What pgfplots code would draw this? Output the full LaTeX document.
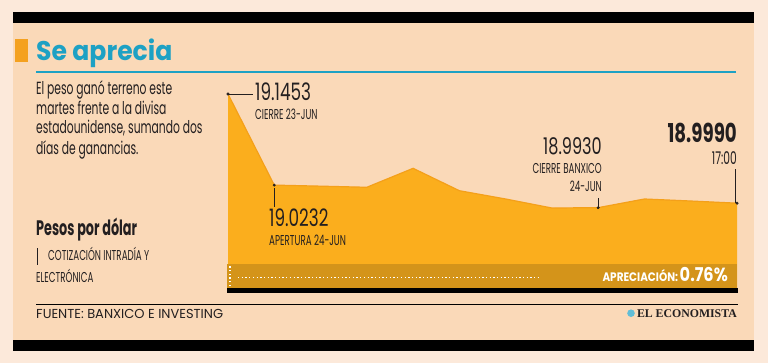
\documentclass[border=0pt]{standalone}
\usepackage{pgfplots}
\pgfplotsset{compat=1.18}
\usepackage{fontspec}
\setmainfont{Poppins}
\newfontfamily\titlefont[FakeStretch=0.93]{Poppins}
\newfontfamily\cond[FakeStretch=0.61]{Poppins}
\newfontfamily\condn[FakeStretch=0.7]{Poppins}
\newfontfamily\condw[FakeStretch=0.85]{Poppins}
\newfontfamily\logofont{Liberation Serif}
\definecolor{outerbg}{RGB}{252,233,218}
\definecolor{panel}{RGB}{250,217,184}
\definecolor{areac}{RGB}{251,174,29}
\definecolor{areaedge}{RGB}{244,160,26}
\definecolor{band}{RGB}{212,148,26}
\definecolor{sq}{RGB}{244,161,31}
\definecolor{titleblue}{RGB}{29,161,196}
\definecolor{txt}{RGB}{35,31,32}
\pgfplotstableread{
x y
0 19.1453
1 19.0232
2 19.0218
3 19.0203
4 19.0457
5 19.0157
6 19.0046
7 18.9925
8 18.9930
9 19.0046
10 19.0019
11 18.9990
}\peso
\pgfplotstableread{
x y
0 19.1453
1 19.0232
8 18.9930
11 18.9990
}\labeled
\begin{document}
\begin{tikzpicture}[x=1bp,y=1bp]
\fill[outerbg] (0,0) rectangle (768,363);
\fill[panel] (13,13) rectangle (754,351);
\fill[black] (13,340.3) rectangle (754,351);
\fill[black] (13,12.3) rectangle (754,23);
\fill[sq] (15,301) rectangle (28,324);
\node[anchor=base west, inner sep=0, text=titleblue, font=\titlefont\fontsize{27bp}{30bp}\selectfont\bfseries] at (36,303) {Se aprecia};
\draw[titleblue, line width=2bp] (36,291) -- (736,291);
% paragraph
\begin{scope}[every node/.style={anchor=base west, inner sep=0, text=txt, font=\cond\fontsize{17.6bp}{20bp}\selectfont}]
\node at (36,269) {El peso ganó terreno este};
\node at (36,249) {martes frente a la divisa};
\node at (36,230) {estadounidense, sumando dos};
\node at (36,209) {días de ganancias.};
\end{scope}
\node[anchor=base west, inner sep=0, text=txt, font=\cond\fontsize{21bp}{22bp}\selectfont\bfseries] at (36,128) {Pesos por dólar};
\draw[txt, line width=0.8bp] (37,115) -- (37,98);
\node[anchor=base west, inner sep=0, text=txt, font=\cond\fontsize{14.3bp}{16bp}\selectfont] at (48,103) {COTIZACIÓN INTRADÍA Y};
\node[anchor=base west, inner sep=0, text=txt, font=\cond\fontsize{14.3bp}{16bp}\selectfont] at (36,81) {ELECTRÓNICA};
% source
\draw[black, line width=0.8bp] (36,59) -- (738,59);
\node[anchor=base west, inner sep=0, text=txt, font=\fontsize{13bp}{16bp}\selectfont] at (36,45) {FUENTE: BANXICO E INVESTING};
\node[anchor=base east, inner sep=0, text=txt, font=\logofont\fontsize{11.8bp}{14bp}\selectfont\bfseries] at (737,46) {EL ECONOMISTA};
\fill[titleblue!70] (631,49.8) circle (3.8);
% chart
\begin{axis}[at={(228bp,72bp)}, anchor=south west, scale only axis,
  width=509bp, height=197bp, xmin=0, xmax=11, ymin=18.8813, ymax=19.1453,
  hide axis, clip=false]
\addplot[fill=areac, draw=none] table[x=x,y=y]{\peso} -- (axis cs:11,18.8813) -- (axis cs:0,18.8813) -- cycle;
\addplot[draw=areaedge, line width=1.2bp] table[x=x,y=y]{\peso};
\addplot[only marks, mark=*, mark size=1.3bp, color=txt] table[x=x,y=y]{\labeled};
\draw[txt, line width=0.7bp] (axis cs:0,19.1453) -- ([xshift=25bp]axis cs:0,19.1453);
\draw[txt, line width=0.7bp] ([yshift=-3bp]axis cs:1,19.0232) -- ([yshift=-22bp]axis cs:1,19.0232);
\draw[txt, line width=0.7bp] (axis cs:8,18.9930) -- ([yshift=10bp]axis cs:8,18.9930);
\draw[txt, line width=0.7bp] ([xshift=-1.5bp]axis cs:11,18.9990) -- ([xshift=-1.5bp,yshift=34bp]axis cs:11,18.9990);
\end{axis}
% band
\fill[band] (227,75) rectangle (737,99);
\fill[black] (227,70.5) rectangle (738,75);
\draw[white, line width=1.3bp, dash pattern=on 1.3bp off 2.4bp] (238,85.3) -- (539,85.3);
\draw[white, line width=1.3bp, dash pattern=on 1.3bp off 2.4bp] (230,77) -- (230,98);
\node[anchor=base east, inner sep=0, text=white, font=\condw\bfseries] at (728,81.3) {{\fontsize{12.3bp}{14bp}\selectfont APRECIACIÓN:}\,{\fontsize{19bp}{20bp}\selectfont 0.76\%}};
% annotations
\begin{scope}[every node/.style={inner sep=0, text=txt}]
\node[anchor=base west, font=\condn\fontsize{24bp}{26bp}\selectfont] at (255,262.3) {19.1453};
\node[anchor=base west, font=\cond\fontsize{14.3bp}{16bp}\selectfont] at (255,244) {CIERRE 23-JUN};
\node[anchor=base west, font=\condn\fontsize{24bp}{26bp}\selectfont] at (269,136.3) {19.0232};
\node[anchor=base west, font=\cond\fontsize{14.3bp}{16bp}\selectfont] at (269,117.3) {APERTURA 24-JUN};
\node[anchor=base east, font=\condn\fontsize{23bp}{24bp}\selectfont] at (602,209) {18.9930};
\node[anchor=base east, font=\cond\fontsize{14.3bp}{16bp}\selectfont] at (602,190) {CIERRE BANXICO};
\node[anchor=base east, font=\cond\fontsize{14.3bp}{16bp}\selectfont] at (602,171.3) {24-JUN};
\node[anchor=base east, font=\condn\fontsize{26bp}{28bp}\selectfont\bfseries] at (737,221) {18.9990};
\node[anchor=base east, font=\cond\fontsize{17.5bp}{18bp}\selectfont] at (737,199) {17:00};
\end{scope}
\end{tikzpicture}
\end{document}
